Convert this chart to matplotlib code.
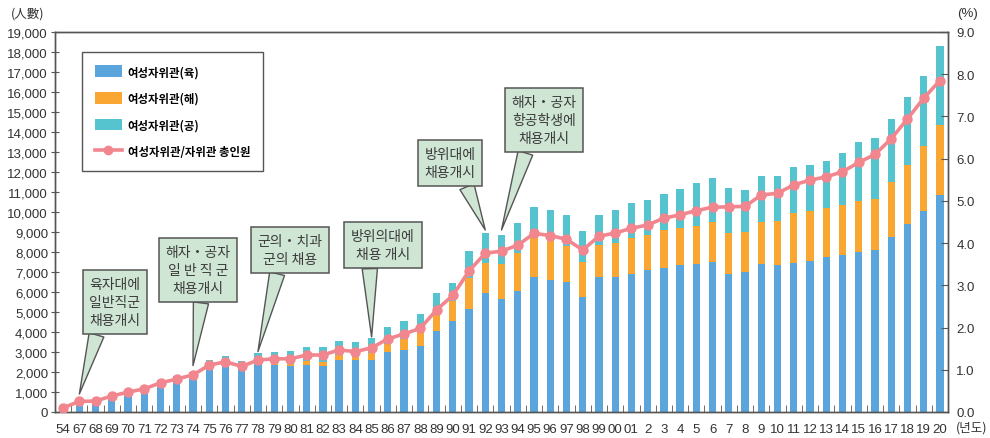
import numpy as np
import matplotlib.pyplot as plt
from matplotlib.patches import Patch
from matplotlib.lines import Line2D
from matplotlib.ticker import FuncFormatter, MultipleLocator

plt.rcParams['font.family'] = ['Liberation Sans', 'Noto Sans CJK KR', 'DejaVu Sans']

# --- data ---
years = ['54', '67', '68', '69', '70', '71', '72', '73', '74', '75', '76', '77', '78', '79',
         '80', '81', '82', '83', '84', '85', '86', '87', '88', '89', '90', '91', '92', '93',
         '94', '95', '96', '97', '98', '99', '00', '01', '2', '3', '4', '5', '6', '7', '8',
         '9', '10', '11', '12', '13', '14', '15', '16', '17', '18', '19', '20']

army = [150, 450, 600, 750, 1070, 1230, 1580, 1800, 2020, 2300, 2450, 2250, 2350, 2330,
        2320, 2350, 2280, 2600, 2600, 2600, 3020, 3100, 3320, 4070, 4570, 5150, 5950, 5630,
        6070, 6730, 6600, 6480, 5770, 6730, 6730, 6900, 7100, 7220, 7330, 7400, 7480, 6900,
        7020, 7400, 7350, 7450, 7570, 7750, 7860, 7980, 8100, 8770, 9390, 10070, 10850]

navy = [0, 0, 0, 0, 0, 0, 0, 0, 0, 0, 0, 0, 20, 60,
        80, 220, 240, 250, 170, 350, 380, 550, 660, 800, 960, 1570, 1510, 1770,
        1870, 1950, 1970, 1840, 1710, 1640, 1720, 1800, 1750, 1880, 1870, 1920, 2040, 2050,
        2000, 2120, 2220, 2480, 2500, 2430, 2490, 2550, 2550, 2710, 2980, 3250, 3500]

air = [0, 0, 0, 0, 0, 0, 0, 0, 0, 300, 340, 320, 600, 630,
       630, 680, 730, 720, 710, 730, 830, 880, 920, 1080, 900, 1310, 1490, 1440,
       1510, 1550, 1550, 1550, 1550, 1500, 1670, 1730, 1750, 1800, 1950, 2110, 2160, 2250,
       2100, 2300, 2250, 2300, 2290, 2390, 2600, 2950, 3030, 3170, 3360, 3500, 3940]

ratio = [0.10, 0.25, 0.26, 0.38, 0.47, 0.55, 0.69, 0.78, 0.88, 1.11, 1.19, 1.08, 1.23, 1.26,
         1.26, 1.35, 1.35, 1.47, 1.43, 1.52, 1.73, 1.85, 1.98, 2.42, 2.76, 3.34, 3.76, 3.81,
         3.95, 4.23, 4.18, 4.09, 3.84, 4.16, 4.24, 4.35, 4.43, 4.59, 4.67, 4.77, 4.85, 4.86,
         4.87, 5.14, 5.18, 5.38, 5.49, 5.57, 5.69, 5.91, 6.10, 6.47, 6.94, 7.43, 7.85]

labels = ['여성자위관(육)', '여성자위관(해)', '여성자위관(공)', '여성자위관/자위관 총인원']

note_texts = ['육자대에\n일반직군\n채용개시',
              '해자・공자\n일 반 직 군\n채용개시',
              '군의・치과\n군의 채용',
              '방위의대에\n채용 개시',
              '방위대에\n채용개시',
              '해자・공자\n항공학생에\n채용개시']
note_years = ['67', '74', '78', '85', '92', '93']

# --- layout / style ---
c_army, c_navy, c_air, c_line = '#5aa6dc', '#f9a632', '#55c4ce', '#f2868e'
note_fc, note_ec = '#cfe6d4', '#555555'
note_box = [(115, 303), (198, 271), (290, 251), (383, 246), (450, 164), (544, 121)]  # px from top-left
note_rel = [0.18, 0.56, 0.33, 0.29, 0.77, 0.25]
note_gap = [450, 300, 50, 70, 150, 260]

W, H = 990, 439
fig = plt.figure(figsize=(W / 100, H / 100), dpi=100)
ax = fig.add_axes([55 / W, 1 - 413 / H, 893 / W, 380 / H])

x = np.arange(len(years))
army = np.array(army); navy = np.array(navy); air = np.array(air)
bw = 0.45
ax.bar(x, army, bw, color=c_army, zorder=2)
ax.bar(x, navy, bw, bottom=army, color=c_navy, zorder=2)
ax.bar(x, air, bw, bottom=army + navy, color=c_air, zorder=2)
total = army + navy + air

ax.set_xlim(-0.5, len(years) - 0.5)
ax.set_ylim(0, 19000)
ax.yaxis.set_major_locator(MultipleLocator(1000))
ax.yaxis.set_major_formatter(FuncFormatter(lambda v, p: f'{int(v):,}'))
ax.set_xticks(x)
ax.set_xticklabels(years)
ax.set_xticks(np.arange(len(years) + 1) - 0.5, minor=True)
ax.tick_params(axis='x', which='major', length=0, pad=8, labelsize=9.5, labelcolor='#333333')
ax.tick_params(axis='x', which='minor', direction='in', length=5, color='#555555')
ax.tick_params(axis='y', direction='inout', length=6, pad=2, labelsize=9.5,
               labelcolor='#333333', color='#555555')
for s in ax.spines.values():
    s.set_color('#555555')
    s.set_linewidth(1)

ax2 = ax.twinx()
ax2.plot(x, ratio, color=c_line, lw=2.6, marker='o', ms=6.5, zorder=3)
ax2.set_ylim(0, 9)
ax2.yaxis.set_major_locator(MultipleLocator(1))
ax2.yaxis.set_major_formatter(FuncFormatter(lambda v, p: f'{v:.1f}'))
ax2.tick_params(axis='y', direction='in', length=5, pad=6, labelsize=9.5,
                labelcolor='#333333', color='#555555')
for s in ax2.spines.values():
    s.set_color('#555555')
    s.set_linewidth(1)

# callouts
for txt, yr, (cx, cy), rx, gap in zip(note_texts, note_years, note_box, note_rel, note_gap):
    i = years.index(yr)
    ax2.annotate(txt, xy=(i, total[i] + gap), xycoords=ax.transData,
                 xytext=(cx, H - cy), textcoords='figure pixels',
                 ha='center', va='center', multialignment='center',
                 family=['Noto Sans CJK KR'], fontsize=10, color='#3a3a3a', linespacing=1.4,
                 bbox=dict(boxstyle='square,pad=0.5', fc=note_fc, ec=note_ec, lw=1.1),
                 arrowprops=dict(arrowstyle='wedge,tail_width=1.1,shrink_factor=0.5',
                                 fc=note_fc, ec=note_ec, lw=1.0, relpos=(rx, 0),
                                 shrinkA=0, shrinkB=0),
                 zorder=5)

handles = [Patch(fc=c_army), Patch(fc=c_navy), Patch(fc=c_air),
           Line2D([], [], color=c_line, lw=2.6, marker='o', ms=6)]
leg = ax2.legend(handles, labels, loc='upper left', bbox_to_anchor=(81.5 / W, 1 - 53 / H),
                 bbox_transform=fig.transFigure, borderaxespad=0, fancybox=False,
                 edgecolor='#555555', framealpha=1,
                 prop=dict(family=['Noto Sans CJK KR'], size=8.2, weight='bold'),
                 handlelength=2.4, handleheight=1.2, labelspacing=1.2, borderpad=1.15,
                 handletextpad=0.5)
leg.get_frame().set_linewidth(1)
leg.set_zorder(6)

fig.text(11 / W, 1 - 14 / H, '(人數)', family=['Noto Sans CJK KR'], fontsize=9,
         color='#333333', va='center', ha='left')
fig.text(957 / W, 1 - 14 / H, '(%)', fontsize=9.5, color='#333333', va='center', ha='left')
fig.text(956 / W, 1 - 428 / H, '(년도)', family=['Noto Sans CJK KR'], fontsize=9,
         color='#333333', va='center', ha='left')

fig.savefig('out.png', dpi=100)
